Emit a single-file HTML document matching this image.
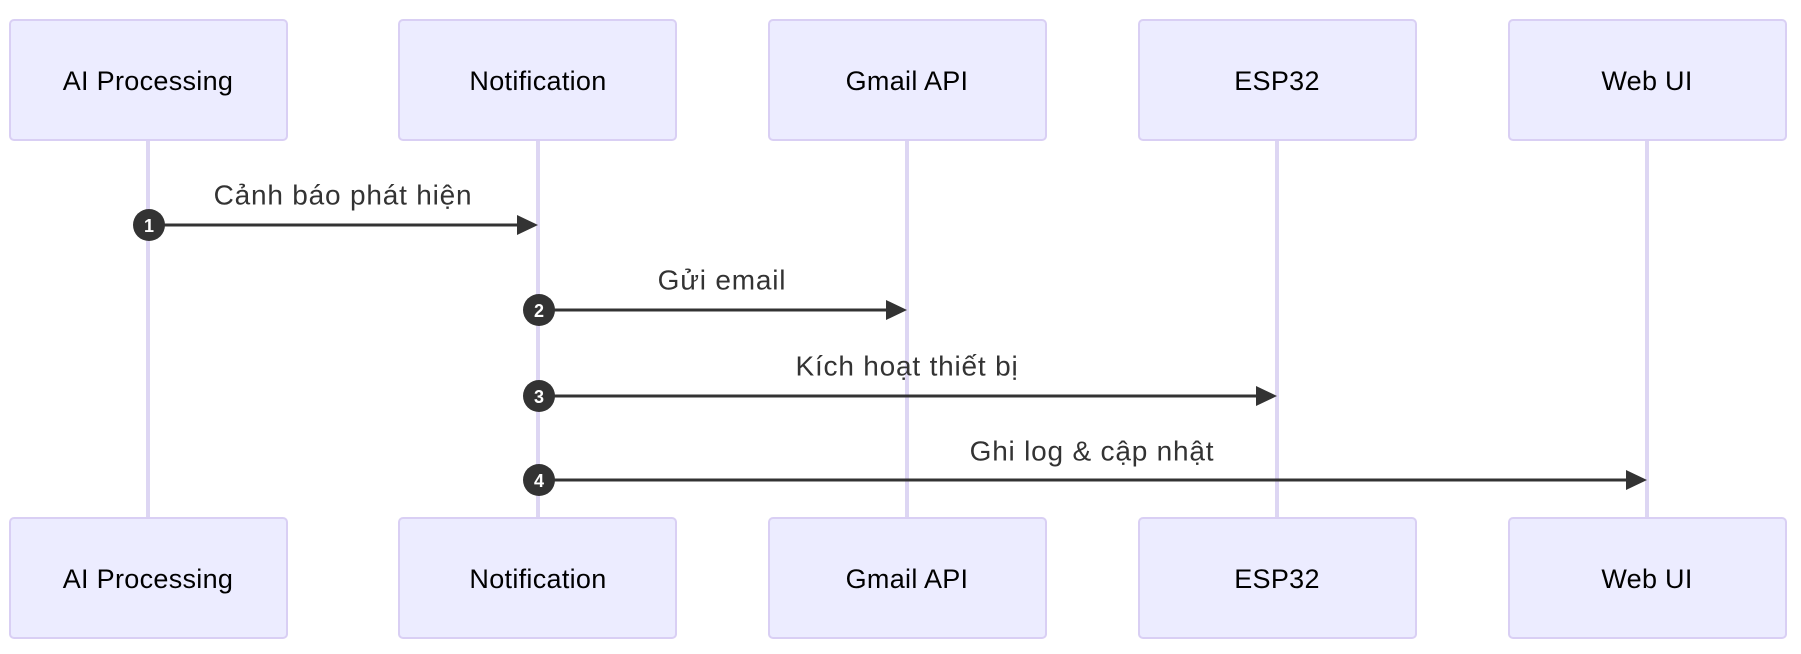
<!DOCTYPE html>
<html><head><meta charset="utf-8"><style>
html,body{margin:0;padding:0;background:#fff;}
svg{display:block;}
text{font-family:"Liberation Sans","DejaVu Sans",sans-serif;}
</style></head><body>
<svg width="1801" height="654" viewBox="0 0 1801 654" xmlns="http://www.w3.org/2000/svg">
<g stroke="#ddd6f3" stroke-width="4">
<line x1="148" y1="140" x2="148" y2="518"/>
<line x1="538" y1="140" x2="538" y2="518"/>
<line x1="907" y1="140" x2="907" y2="518"/>
<line x1="1277" y1="140" x2="1277" y2="518"/>
<line x1="1647" y1="140" x2="1647" y2="518"/>
</g>
<g fill="#ececff" stroke="#d9cff4" stroke-width="2">
<rect x="10" y="20" width="277" height="120" rx="4"/>
<rect x="399" y="20" width="277" height="120" rx="4"/>
<rect x="769" y="20" width="277" height="120" rx="4"/>
<rect x="1139" y="20" width="277" height="120" rx="4"/>
<rect x="1509" y="20" width="277" height="120" rx="4"/>
<rect x="10" y="518" width="277" height="120" rx="4"/>
<rect x="399" y="518" width="277" height="120" rx="4"/>
<rect x="769" y="518" width="277" height="120" rx="4"/>
<rect x="1139" y="518" width="277" height="120" rx="4"/>
<rect x="1509" y="518" width="277" height="120" rx="4"/>
</g>
<g font-size="27" fill="#000" text-anchor="middle" dominant-baseline="central">
<text x="148" y="81" letter-spacing="0.3">AI Processing</text>
<text x="538" y="81" letter-spacing="0.3">Notification</text>
<text x="907" y="81" letter-spacing="0.3">Gmail API</text>
<text x="1277" y="81" letter-spacing="0.3">ESP32</text>
<text x="1647" y="81" letter-spacing="0.3">Web UI</text>
<text x="148" y="579" letter-spacing="0.3">AI Processing</text>
<text x="538" y="579" letter-spacing="0.3">Notification</text>
<text x="907" y="579" letter-spacing="0.3">Gmail API</text>
<text x="1277" y="579" letter-spacing="0.3">ESP32</text>
<text x="1647" y="579" letter-spacing="0.3">Web UI</text>
</g>
<g stroke="#333" stroke-width="3">
<line x1="148" y1="225" x2="518" y2="225"/>
<line x1="538" y1="310" x2="887" y2="310"/>
<line x1="538" y1="396" x2="1257" y2="396"/>
<line x1="538" y1="480" x2="1627" y2="480"/>
</g>
<g fill="#333">
<polygon points="517,215 538,225 517,235"/>
<polygon points="886,300 907,310 886,320"/>
<polygon points="1256,386 1277,396 1256,406"/>
<polygon points="1626,470 1647,480 1626,490"/>
<circle cx="149" cy="225" r="16"/>
<circle cx="539" cy="310" r="16"/>
<circle cx="539" cy="396" r="16"/>
<circle cx="539" cy="480" r="16"/>
</g>
<g font-size="18" font-weight="bold" fill="#fff" text-anchor="middle" dominant-baseline="central">
<text x="149" y="226">1</text>
<text x="539" y="311">2</text>
<text x="539" y="397">3</text>
<text x="539" y="481">4</text>
</g>
<g font-size="28" fill="#333" text-anchor="middle" dominant-baseline="central" letter-spacing="0.8">
<text x="343" y="195">Cảnh báo phát hiện</text>
<text x="722" y="280">Gửi email</text>
<text x="907" y="366">Kích hoạt thiết bị</text>
<text x="1092" y="451">Ghi log &amp; cập nhật</text>
</g>
</svg>
</body></html>
